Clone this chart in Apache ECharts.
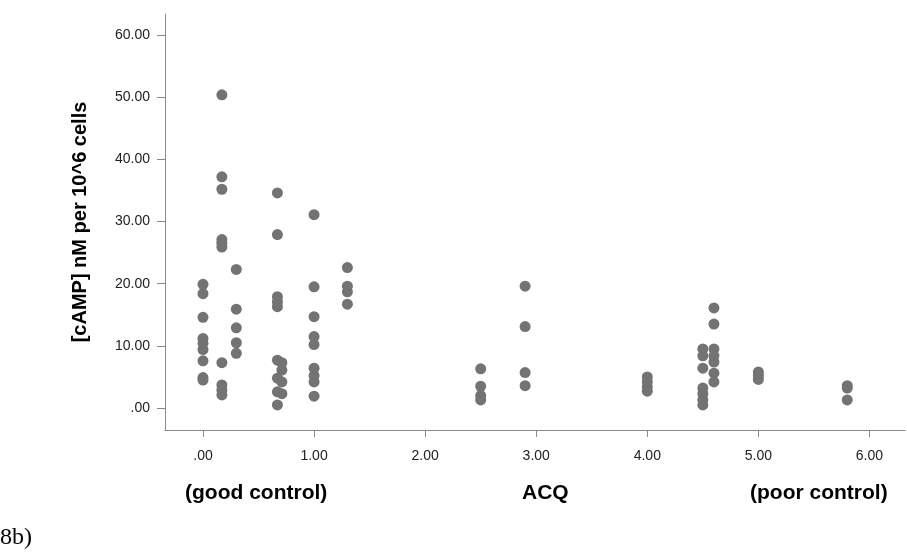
<!DOCTYPE html>
<html>
<head>
<meta charset="utf-8">
<script src="https://cdn.jsdelivr.net/npm/echarts@6/dist/echarts.min.js"></script>
<style>
  html, body { margin: 0; padding: 0; background: #fff; }
  #chart { width: 907px; height: 553px; }
</style>
</head>
<body>
<div id="chart"></div>
<script>
// ACQ score (x) and cAMP level (y), one entry per patient
const acq = [
  0, 0, 0, 0, 0, 0, 0, 0, 0,
  0.17, 0.17, 0.17, 0.17, 0.17, 0.17, 0.17, 0.17, 0.17, 0.17,
  0.3, 0.3, 0.3, 0.3, 0.3,
  0.67, 0.67, 0.67, 0.67, 0.67, 0.67, 0.67, 0.67, 0.67,
  0.71, 0.71, 0.71, 0.71,
  1, 1, 1, 1, 1, 1, 1, 1, 1,
  1.3, 1.3, 1.3, 1.3,
  2.5, 2.5, 2.5, 2.5,
  2.9, 2.9, 2.9, 2.9,
  4, 4, 4, 4,
  4.5, 4.5, 4.5, 4.5, 4.5, 4.5, 4.5,
  4.6, 4.6, 4.6, 4.6, 4.6, 4.6, 4.6,
  5, 5, 5,
  5.8, 5.8, 5.8,
];
const camp = [
  19.9, 18.4, 14.6, 11.2, 10.4, 9.4, 7.6, 4.9, 4.5,
  50.4, 37.2, 35.2, 27.1, 26.5, 25.9, 7.3, 3.7, 2.9, 2.1,
  22.3, 15.9, 12.9, 10.5, 8.8,
  34.6, 27.9, 17.9, 17.1, 16.3, 7.7, 4.8, 2.6, 0.5,
  7.3, 6.1, 4.2, 2.3,
  31.1, 19.5, 14.7, 11.5, 10.2, 6.4, 5.2, 4.2, 1.9,
  22.6, 19.6, 18.7, 16.7,
  6.3, 3.5, 2.0, 1.3,
  19.6, 13.1, 5.7, 3.6,
  5.0, 4.2, 3.4, 2.7,
  9.5, 8.4, 6.4, 3.2, 2.3, 1.3, 0.5,
  16.1, 13.5, 9.5, 8.4, 7.4, 5.6, 4.2,
  5.8, 5.2, 4.6,
  3.6, 3.2, 1.3,
];
const xTicks = [0, 1, 2, 3, 4, 5, 6];
const yTicks = [0, 10, 20, 30, 40, 50, 60];

const points = acq.map((x, i) => [x, camp[i]]);

// SPSS style labels: ".00", "10.00"
const fmt = (v) => v.toFixed(2).replace(/^0\./, ".");

const font = "Liberation Sans, Arial, sans-serif";
const axisGrey = "#8a8a8a";

const chart = echarts.init(document.getElementById("chart"));
chart.setOption({
  animation: false,
  backgroundColor: "#fff",
  grid: { left: 165, right: 2, top: 14, bottom: 123 },
  xAxis: {
    type: "value",
    min: -0.342,
    max: 6.32,
    splitLine: { show: false },
    axisLine: { onZero: false, lineStyle: { color: axisGrey, width: 1 } },
    axisTick: { customValues: xTicks, length: 7, lineStyle: { color: axisGrey } },
    axisLabel: {
      customValues: xTicks,
      formatter: fmt,
      color: "#222",
      fontFamily: font,
      fontSize: 14,
      margin: 19,
    },
  },
  yAxis: {
    type: "value",
    min: -3.54,
    max: 63.4,
    splitLine: { show: false },
    axisLine: { show: true, onZero: false, lineStyle: { color: axisGrey, width: 1 } },
    axisTick: { show: true, customValues: yTicks, length: 8, lineStyle: { color: axisGrey } },
    axisLabel: {
      customValues: yTicks,
      formatter: fmt,
      color: "#222",
      fontFamily: font,
      fontSize: 14,
      margin: 15,
    },
    name: "[cAMP] nM per 10^6 cells",
    nameLocation: "middle",
    nameRotate: 90,
    nameGap: 75,
    nameTextStyle: {
      color: "#000",
      fontFamily: font,
      fontSize: 20,
      fontWeight: "bold",
    },
  },
  graphic: [
    {
      type: "text",
      left: 185,
      top: 483,
      style: { text: "(good control)", fill: "#000", font: "bold 21px " + font },
    },
    {
      type: "text",
      left: 522,
      top: 483,
      style: { text: "ACQ", fill: "#000", font: "bold 21px " + font },
    },
    {
      type: "text",
      left: 750,
      top: 483,
      style: { text: "(poor control)", fill: "#000", font: "bold 21px " + font },
    },
    {
      type: "text",
      left: 0,
      top: 526,
      style: { text: "8b)", fill: "#000", font: "24px Liberation Serif, Times New Roman, serif" },
    },
  ],
  series: [
    {
      type: "scatter",
      data: points,
      symbolSize: 11,
      itemStyle: { color: "#737373", opacity: 1 },
    },
  ],
});
</script>
</body>
</html>
